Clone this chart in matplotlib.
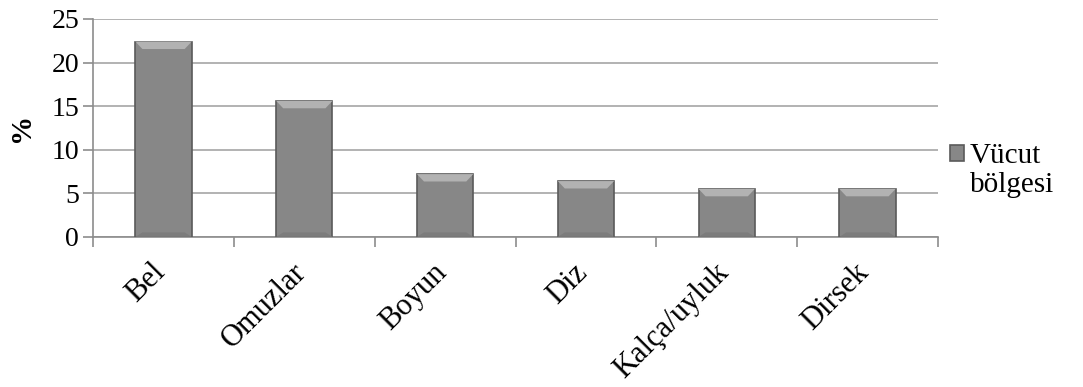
import numpy as np
import matplotlib.pyplot as plt
import matplotlib.transforms as mtransforms
from matplotlib.patches import Polygon
from matplotlib.ticker import FixedLocator

plt.rcParams['font.family'] = ['Liberation Serif', 'DejaVu Serif']

bolgeler = ['Bel', 'Omuzlar', 'Boyun', 'Diz', 'Kalça/uyluk', 'Dirsek']
yuzde = [22.4, 15.6, 7.2, 6.4, 5.5, 5.5]

fig = plt.figure(figsize=(10.83, 3.87), dpi=100)
ax = fig.add_axes([0.086, 0.388, 0.78, 0.563])

x = np.arange(len(bolgeler))
cubuklar = ax.bar(x, yuzde, width=0.4, color='#878787', edgecolor='#5a5a5a',
                  linewidth=1.2, label='Vücut', zorder=3)

ax.set_xlim(-0.5, len(bolgeler) - 0.5)
ax.set_ylim(0, 25)

# ust ve alt kenarda pah (bevel) efekti
dx, dh = 0.05, 0.85
for c in cubuklar:
    x0, x1 = c.get_x(), c.get_x() + c.get_width()
    h = c.get_height()
    ax.add_patch(Polygon([(x0, h), (x1, h), (x1 - dx, h - dh), (x0 + dx, h - dh)],
                         closed=True, facecolor='#b2b2b2', edgecolor='none',
                         zorder=4))
    ax.add_patch(Polygon([(x0, 0), (x1, 0), (x1 - dx, dh * 0.6), (x0 + dx, dh * 0.6)],
                         closed=True, facecolor='#7c7c7c', edgecolor='none',
                         zorder=4))

ax.set_yticks(range(0, 26, 5))
ax.grid(axis='y', color='#a6a6a6', linewidth=1.2, zorder=0)

ax.set_xticks(x)
ax.set_xticklabels(bolgeler, rotation=45, ha='right', rotation_mode='anchor',
                   fontsize=22)
ax.xaxis.set_minor_locator(FixedLocator(np.arange(-0.5, len(bolgeler), 1)))
ax.tick_params(axis='x', which='major', length=0, pad=15)
ax.tick_params(axis='x', which='minor', length=7, color='#8c8c8c', width=1.2)
ax.tick_params(axis='y', length=7, color='#8c8c8c', width=1.2, labelsize=20,
               pad=3)

# etiketleri biraz sola kaydir (tick_params'tan sonra)
kaydir = mtransforms.ScaledTranslation(-0.13, 0, fig.dpi_scale_trans)
for t in ax.get_xticklabels():
    t.set_transform(t.get_transform() + kaydir)

for s in ['top', 'right']:
    ax.spines[s].set_visible(False)
for s in ['left', 'bottom']:
    ax.spines[s].set_color('#8c8c8c')
    ax.spines[s].set_linewidth(1.2)

ax.set_ylabel('%', fontsize=21, fontweight='bold', labelpad=12)

leg = ax.legend(loc='center left', bbox_to_anchor=(1.0, 0.37), frameon=False,
                fontsize=21, handlelength=0.5, handleheight=0.5,
                handletextpad=0.2, borderaxespad=0.0)
ax.annotate('bölgesi', xy=(0, 0), xycoords=leg.get_texts()[0],
            xytext=(0, -2), textcoords='offset points', va='top', ha='left',
            fontsize=21, zorder=10)

fig.savefig('out.png')
